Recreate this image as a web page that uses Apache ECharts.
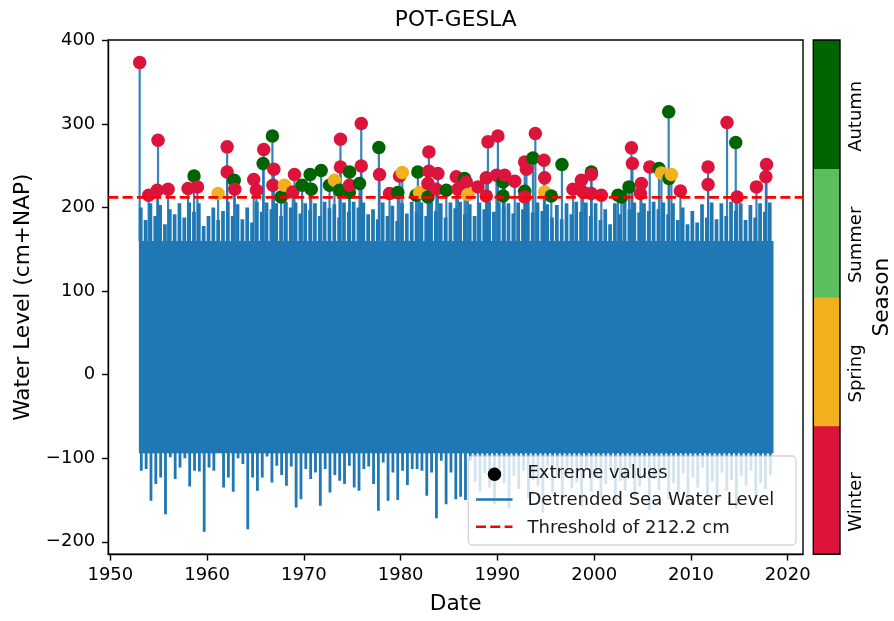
<!DOCTYPE html>
<html>
<head>
<meta charset="utf-8">
<script src="https://cdn.jsdelivr.net/npm/echarts@6/dist/echarts.min.js"></script>
<style>html,body{margin:0;padding:0;background:#fff}#c{width:894px;height:621px}</style>
</head>
<body>
<div id="c"></div>
<script>
// ---------- data ----------
const xTicks = [1950, 1960, 1970, 1980, 1990, 2000, 2010, 2020];
const yTicks = [-200, -100, 0, 100, 200, 300, 400];
const threshold = 212.2;
const seasonNames = ['Winter', 'Spring', 'Summer', 'Autumn'];
const seasonColors = ['#dc143c', '#f2b01e', '#5cbf5f', '#006400'];

// Detrended water level, summarised per half-year bin (start, width)
const binStart = 1952.95;
const binWidth = 0.5;
const hiLevels = [
  200,185,205,190,203,180,198,192,205,188,206,195,
  205,178,190,200,185,196,207,190,204,186,200,182,
  207,195,206,198,205,190,207,200,206,193,205,197,
  205,190,207,199,204,188,206,195,207,200,206,192,
  198,186,206,190,202,184,205,193,207,195,206,190,
  207,196,205,188,206,199,207,192,204,190,206,198,
  207,195,206,200,205,193,206,198,207,194,206,196,
  204,188,203,186,205,192,207,195,206,190,205,185,
  198,180,205,192,207,198,206,194,205,196,207,198,
  206,192,205,185,200,180,196,182,204,188,206,186,
  205,190,207,196,205,185,203,188,205,195,206
];
const loLevels = [
  -115,-113,-151,-131,-123,-167,-99,-125,-111,-100,-134,-115,-116,-188,-111,-115,-92,-135,-123,-140,
  -100,-107,-185,-123,-139,-123,-98,-129,-109,-120,-133,-110,-159,-149,-113,-125,-117,-157,-113,-141,
  -120,-127,-131,-109,-135,-139,-113,-110,-131,-163,-105,-151,-117,-150,-115,-132,-113,-113,-115,-145,
  -117,-172,-103,-155,-117,-149,
  -146,-150,-103,-128,-140,-118,-135,-155,-112,-130,
  -160,-121,-137,-115,-148,-126,-133,-165,-110,-142,
  -124,-151,-118,-136,-129,-158,-113,-140,-122,-147,
  -131,-116,-153,-127,-139,-112,-145,-134,-120,-162,
  -125,-138,-114,-149,-130,-141,-118,-156,-123,-135,
  -111,-146,-128,-152,-117,-139,-126,-160,-121,-133,
  -115,-148,-130,-137,-120
];
const coreLevels = [-94, 160]; // range always covered by the dense signal

// Peaks over threshold
const extremeYears = [
  1953.03,1953.96,1954.93,1954.85,1955.97,1958.03,1958.65,1959.00,1961.14,1962.07,
  1962.07,1962.80,1962.86,1964.82,1965.10,1965.79,1965.85,1966.75,1966.80,1966.90,
  1967.65,1968.00,1968.85,1969.03,1969.82,1970.65,1970.76,1971.79,1972.65,1973.16,
  1973.68,1973.78,1973.78,1974.70,1974.72,1974.72,1975.75,1975.93,1975.93,1977.75,
  1977.82,1978.85,1979.71,1979.89,1980.17,1981.60,1981.78,1981.96,1982.82,1982.82,
  1982.92,1982.92,1983.68,1983.85,1984.72,1985.75,1985.92,1986.61,1986.78,1986.95,
  1987.99,1988.85,1988.85,1989.02,1989.90,1990.05,1990.58,1990.58,1990.75,1991.79,
  1992.82,1992.82,1992.82,1993.00,1993.67,1993.92,1994.81,1994.88,1994.88,1995.57,
  1996.67,1997.81,1998.68,1998.85,1999.71,1999.71,1999.71,2000.74,2002.46,2002.81,
  2003.60,2003.85,2003.95,2004.78,2004.88,2005.74,2006.70,2006.95,2007.70,2007.73,
  2007.98,2008.91,2011.77,2011.77,2013.73,2014.63,2014.77,2016.77,2017.74,2017.81
];
const extremeValues = [
  373.6,214.7,280.6,220.7,222.0,222.7,237.8,224.7,216.8,272.6,
  242.6,232.7,222.0,233.5,220.7,252.7,269.4,285.7,226.7,245.9,
  212.7,226.7,218.7,239.5,226.7,239.5,222.0,244.3,226.7,232.7,
  220.7,281.8,248.6,218.0,242.6,226.7,228.7,300.6,249.8,271.8,
  239.5,216.8,218.0,237.8,241.9,214.7,242.6,218.0,228.7,212.7,
  266.6,243.5,222.0,240.7,220.7,236.8,222.0,234.7,230.7,215.6,
  224.7,235.5,213.9,278.6,238.7,285.7,230.7,213.9,238.7,231.5,
  254.6,219.5,212.7,245.9,259.4,288.6,256.6,235.5,218.7,213.9,
  251.5,222.0,232.7,218.7,242.6,239.5,216.8,214.7,214.7,212.7,
  224.7,271.4,252.7,216.8,228.7,248.6,246.7,241.4,314.5,234.7,
  239.5,219.9,248.6,227.5,301.8,277.8,212.7,224.7,236.8,251.5
];
// 0 Winter, 1 Spring, 2 Summer, 3 Autumn
const extremeSeasons = [
  0,0,0,0,0,0,3,0,1,0,
  0,3,0,0,0,3,0,3,0,0,
  3,1,0,0,3,3,3,3,3,1,
  3,0,0,3,3,0,3,0,0,3,
  0,0,3,0,1,3,3,1,0,3,
  0,0,0,0,3,0,0,3,0,1,
  0,0,0,0,0,0,3,3,0,0,
  0,3,0,0,3,0,0,0,1,3,
  3,0,0,0,3,0,0,0,3,3,
  3,0,0,0,0,0,3,1,3,3,
  1,0,0,0,0,3,0,0,0,0
];

// ---------- layout ----------
const FONT = 'DejaVu Sans';
const G = {left: 108.3, right: 91, top: 40, bottom: 66.7};
const X_MIN = 1949.79, X_MAX = 2021.58, Y_MIN = -215, Y_MAX = 400.5;
const BLUE = '#1f77b4';

const binData = hiLevels.map((h, i) => [binStart + i * binWidth, loLevels[i], h]);
const stemData = extremeYears.map((t, i) => [t, extremeValues[i]]);
const scatterData = extremeYears.map((t, i) => ({
  value: [t, extremeValues[i]],
  itemStyle: {color: seasonColors[extremeSeasons[i]]}
}));

const chart = echarts.init(document.getElementById('c'), null, {renderer: 'canvas'});

// colorbar + legend graphics
const cbX = 813.3, cbW = 26.7, cbTop = 40, cbBottom = 554.3;
const segH = (cbBottom - cbTop) / seasonNames.length;
const graphics = [];
seasonNames.forEach((name, i) => {
  const y0 = cbBottom - (i + 1) * segH;
  graphics.push({type: 'rect', z: 20, shape: {x: cbX, y: y0, width: cbW, height: segH + 0.5},
    style: {fill: seasonColors[i]}});
  graphics.push({type: 'text', z: 20, x: 856, y: y0 + segH / 2 + 12, rotation: Math.PI / 2,
    style: {text: name, fontSize: 18, fontFamily: FONT, fill: '#000', align: 'center', verticalAlign: 'middle'}});
});
graphics.push({type: 'rect', z: 21, shape: {x: cbX, y: cbTop, width: cbW, height: cbBottom - cbTop},
  style: {fill: 'none', stroke: '#000', lineWidth: 1.4}});
graphics.push({type: 'text', z: 20, x: 882, y: (cbTop + cbBottom) / 2, rotation: Math.PI / 2,
  style: {text: 'Season', fontSize: 21.7, fontFamily: FONT, fill: '#000', align: 'center', verticalAlign: 'middle'}});

// legend
graphics.push({type: 'rect', z: 30, shape: {x: 468.3, y: 456, width: 327.7, height: 89, r: 4},
  style: {fill: 'rgba(255,255,255,0.8)', stroke: 'rgba(204,204,204,0.8)', lineWidth: 1.4}});
graphics.push({type: 'circle', z: 31, shape: {cx: 494.5, cy: 474.3, r: 6.7}, style: {fill: '#000'}});
graphics.push({type: 'line', z: 31, shape: {x1: 476, y1: 499.5, x2: 512.5, y2: 499.5},
  style: {stroke: BLUE, lineWidth: 2.6}});
graphics.push({type: 'line', z: 31, shape: {x1: 476, y1: 526.7, x2: 512.5, y2: 526.7},
  style: {stroke: '#ff0000', lineWidth: 2.6, lineDash: [10, 4.3]}});
[['Extreme values', 473.3], ['Detrended Sea Water Level', 500.3], ['Threshold of ' + threshold + ' cm', 528]].forEach(([t, y]) => {
  graphics.push({type: 'text', z: 31, x: 527.5, y: y,
    style: {text: t, fontSize: 18, fontFamily: FONT, fill: '#1a1a1a', align: 'left', verticalAlign: 'middle'}});
});

const axisCommon = {
  axisLine: {show: true, onZero: false, lineStyle: {color: '#000', width: 1.4}},
  axisTick: {show: true, length: 6.3, lineStyle: {color: '#000', width: 1.4}},
  splitLine: {show: false},
  nameLocation: 'middle',
  nameTextStyle: {fontSize: 21.7, fontFamily: FONT, color: '#000'}
};

chart.setOption({
  animation: false,
  textStyle: {fontFamily: FONT},
  title: {text: 'POT-GESLA', left: 455.7, top: 9, textAlign: 'center', padding: 0,
    textStyle: {fontSize: 21.7, fontWeight: 'normal', color: '#000', fontFamily: FONT}},
  grid: Object.assign({show: true, borderColor: '#000', borderWidth: 1.4, backgroundColor: 'transparent', containLabel: false}, G),
  xAxis: Object.assign({}, axisCommon, {
    type: 'value', min: X_MIN, max: X_MAX, name: 'Date', nameGap: 39,
    axisTick: Object.assign({}, axisCommon.axisTick, {customValues: xTicks}),
    axisLabel: {customValues: xTicks, fontSize: 18, color: '#000', margin: 12, fontFamily: FONT,
      formatter: v => String(v)}
  }),
  yAxis: Object.assign({}, axisCommon, {
    type: 'value', min: Y_MIN, max: Y_MAX, name: 'Water Level (cm+NAP)', nameGap: 74, nameRotate: 90,
    axisTick: Object.assign({}, axisCommon.axisTick, {customValues: yTicks}),
    axisLabel: {customValues: yTicks, fontSize: 18, color: '#000', margin: 13, fontFamily: FONT,
      formatter: v => String(v).replace('-', '\u2212')}
  }),
  graphic: graphics,
  series: [
    {
      name: 'Detrended Sea Water Level',
      type: 'custom',
      z: 2,
      clip: true,
      encode: {x: 0, y: [1, 2]},
      data: binData,
      renderItem: (params, api) => {
        const t0 = api.value(0), lo = api.value(1), hi = api.value(2);
        const a = api.coord([t0, coreLevels[1]]);
        const b = api.coord([t0 + binWidth, coreLevels[0]]);
        const pHi = api.coord([t0, hi]);
        const pLo = api.coord([t0, lo]);
        const x0 = a[0], w = b[0] - a[0];
        const style = {fill: BLUE};
        return {type: 'group', children: [
          {type: 'rect', shape: {x: x0, y: a[1], width: w + 0.8, height: b[1] - a[1]}, style: style},
          {type: 'rect', shape: {x: x0, y: pHi[1], width: w - 1.1, height: a[1] - pHi[1] + 1}, style: style},
          {type: 'rect', shape: {x: x0 + w / 2 - 1.4, y: b[1] - 1, width: 2.8, height: pLo[1] - b[1] + 1}, style: style}
        ]};
      }
    },
    {
      name: 'stems',
      type: 'custom',
      z: 3,
      encode: {x: 0, y: 1},
      data: stemData,
      renderItem: (params, api) => {
        const t = api.value(0), v = api.value(1);
        const p0 = api.coord([t, coreLevels[1]]);
        const p1 = api.coord([t, v]);
        return {type: 'line', shape: {x1: p0[0], y1: p0[1], x2: p1[0], y2: p1[1]},
          style: {stroke: BLUE, lineWidth: 2.2, opacity: 0.9}};
      }
    },
    {
      name: 'Extreme values',
      type: 'scatter',
      z: 4,
      symbol: 'circle',
      symbolSize: 13.5,
      data: scatterData,
      itemStyle: {opacity: 1}
    },
    {
      name: 'Threshold of ' + threshold + ' cm',
      type: 'line',
      z: 5,
      symbol: 'none',
      data: [[X_MIN, threshold], [X_MAX, threshold]],
      lineStyle: {color: '#ff0000', width: 2.6, type: [10, 4.3]}
    }
  ]
});
</script>
</body>
</html>
